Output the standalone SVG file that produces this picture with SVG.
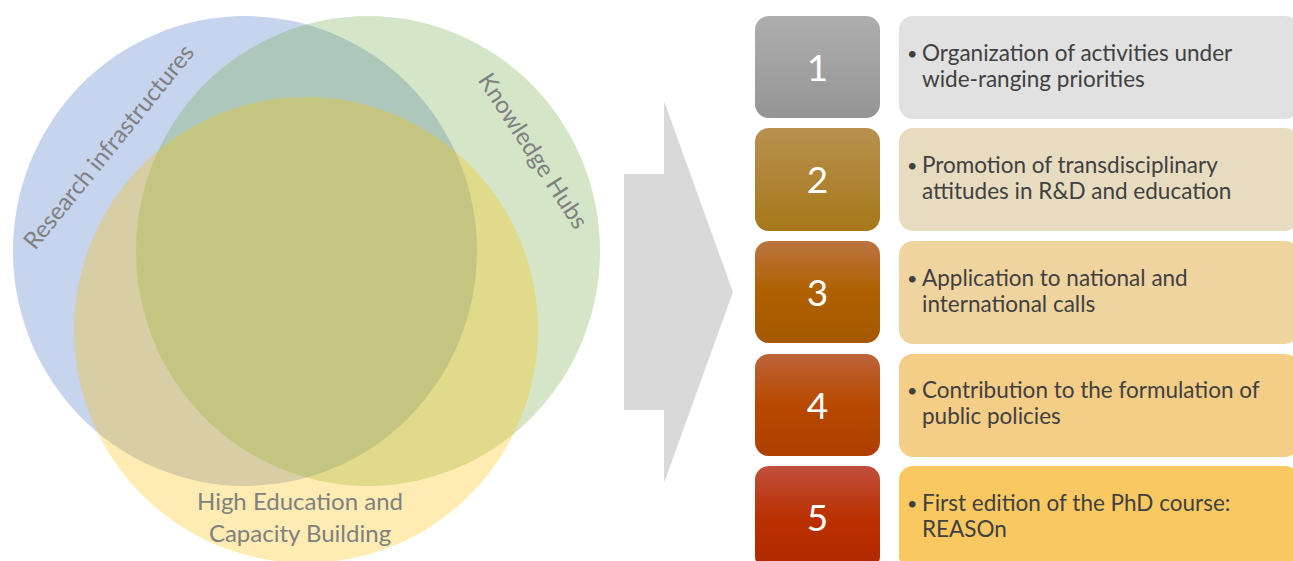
<svg xmlns="http://www.w3.org/2000/svg" width="1293" height="561" viewBox="0 0 1293 561">
<defs>
<style>
.venn{opacity:0.3}
.vlabel{font-family:Lato,"Liberation Sans",sans-serif;font-size:24px;fill:#808080}
.num{font-family:Lato,"Liberation Sans",sans-serif;font-size:37px;fill:#FFFFFF;text-anchor:middle}
.txt{font-family:Lato,"Liberation Sans",sans-serif;font-size:22.5px;fill:#404040}
.bul{font-family:Lato,"Liberation Sans",sans-serif;font-size:18px;fill:#404040}
</style>
<linearGradient id="g1" x1="0" y1="0" x2="0" y2="1"><stop offset="0" stop-color="#AEAEAE"/><stop offset="1" stop-color="#959595"/></linearGradient>
<linearGradient id="g2" x1="0" y1="0" x2="0" y2="1"><stop offset="0" stop-color="#B9904F"/><stop offset="1" stop-color="#A67819"/></linearGradient>
<linearGradient id="g3" x1="0" y1="0" x2="0" y2="1"><stop offset="0" stop-color="#BA7440"/><stop offset="0.5" stop-color="#B06000"/><stop offset="1" stop-color="#A65800"/></linearGradient>
<linearGradient id="g4" x1="0" y1="0" x2="0" y2="1"><stop offset="0" stop-color="#BC6439"/><stop offset="0.5" stop-color="#B84800"/><stop offset="1" stop-color="#AE4000"/></linearGradient>
<linearGradient id="g5" x1="0" y1="0" x2="0" y2="1"><stop offset="0" stop-color="#C0503C"/><stop offset="0.5" stop-color="#BA3000"/><stop offset="1" stop-color="#B02800"/></linearGradient>
</defs>
<rect width="1293" height="561" fill="#FFFFFF"/>

<g id="venn-research">
<ellipse class="venn" cx="245" cy="251" rx="232" ry="235" fill="#4472C4"/>
</g>
<g id="venn-knowledge">
<ellipse class="venn" cx="368" cy="251" rx="232" ry="235" fill="#70AD47"/>
</g>
<g id="venn-education">
<ellipse class="venn" cx="306" cy="330" rx="232" ry="233" fill="#FFC000"/>
</g>
<g id="venn-labels">
<text class="vlabel" text-anchor="middle" transform="translate(109,147) rotate(-51)" y="8">Research infrastructures</text>
<text class="vlabel" text-anchor="middle" transform="translate(533,151) rotate(57)" y="8">Knowledge Hubs</text>
<text class="vlabel" text-anchor="middle" x="300" y="510">High Education and</text>
<text class="vlabel" text-anchor="middle" x="300" y="542">Capacity Building</text>
</g>

<g id="connectors">
<polygon points="624,174 664,174 664,101 733,292 664,483 664,410 624,410" fill="#D9D9D9"/>
</g>

<g id="step1">
<rect x="755" y="16" width="125" height="102" rx="14" fill="url(#g1)"/>
<text class="num" x="817.5" y="81">1</text>
<rect x="899" y="16" width="400" height="103" rx="14" fill="#E1E1E1"/>
<text class="bul" x="907" y="60">•</text>
<text class="txt" x="922" y="61">Organization of activities under</text>
<text class="txt" x="922" y="87">wide-ranging priorities</text>
</g>
<g id="step2">
<rect x="755" y="128" width="125" height="103" rx="14" fill="url(#g2)"/>
<text class="num" x="817.5" y="193">2</text>
<rect x="899" y="128" width="400" height="103" rx="14" fill="#E8DCC0"/>
<text class="bul" x="907" y="172">•</text>
<text class="txt" x="922" y="173">Promotion of transdisciplinary</text>
<text class="txt" x="922" y="199">attitudes in R&amp;D and education</text>
</g>
<g id="step3">
<rect x="755" y="241" width="125" height="102" rx="14" fill="url(#g3)"/>
<text class="num" x="817.5" y="306">3</text>
<rect x="899" y="241" width="400" height="103" rx="14" fill="#EFD49F"/>
<text class="bul" x="907" y="285">•</text>
<text class="txt" x="922" y="286">Application to national and</text>
<text class="txt" x="922" y="312">international calls</text>
</g>
<g id="step4">
<rect x="755" y="354" width="125" height="102" rx="14" fill="url(#g4)"/>
<text class="num" x="817.5" y="419">4</text>
<rect x="899" y="354" width="400" height="103" rx="14" fill="#F4CD87"/>
<text class="bul" x="907" y="397">•</text>
<text class="txt" x="922" y="398">Contribution to the formulation of</text>
<text class="txt" x="922" y="424">public policies</text>
</g>
<g id="step5">
<rect x="755" y="466" width="125" height="104" rx="14" fill="url(#g5)"/>
<text class="num" x="817.5" y="531">5</text>
<rect x="899" y="466" width="400" height="104" rx="14" fill="#FAC860"/>
<text class="bul" x="907" y="510">•</text>
<text class="txt" x="922" y="511">First edition of the PhD course:</text>
<text class="txt" x="922" y="537">REASOn</text>
</g>
</svg>
